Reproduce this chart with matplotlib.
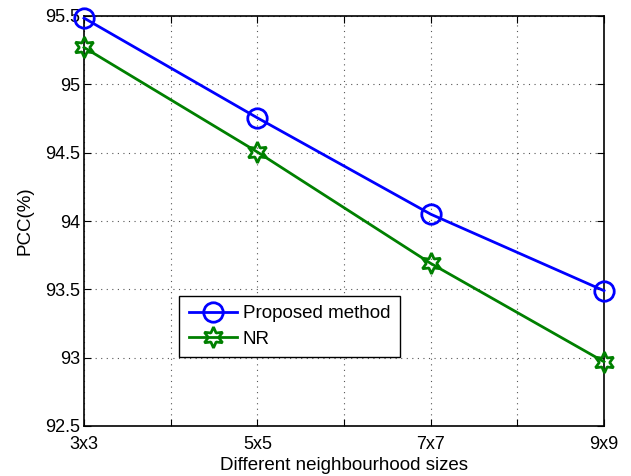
import numpy as np
import matplotlib
matplotlib.use("Agg")
import matplotlib.pyplot as plt

sizes = ["3x3", "5x5", "7x7", "9x9"]
proposed = [95.485, 94.755, 94.05, 93.49]
nr = [95.27, 94.505, 93.69, 92.97]

plt.rcParams["font.family"] = ["Liberation Sans", "DejaVu Sans"]

fig = plt.figure(figsize=(6.31, 4.76), dpi=100)
ax = fig.add_axes([84 / 631, 50 / 476, 520 / 631, 410 / 476])

x = np.arange(1, len(sizes) + 1)
ax.plot(x, proposed, color="#0000ff", lw=2, marker="o", ms=14, mfc="none",
        mew=2, label="Proposed method", clip_on=False, zorder=3)
ax.plot(x, nr, color="#008000", lw=2, marker=(6, 1, 0), ms=15, mfc="none",
        mew=2, label="NR", clip_on=False, zorder=3)

ax.set_xlim(1, 4)
ax.set_ylim(92.5, 95.5)
ax.set_xticks(np.arange(1, 4.01, 0.5))
ax.set_xticklabels([sizes[i // 2] if i % 2 == 0 else "" for i in range(7)])
ax.set_yticks(np.arange(92.5, 95.51, 0.5))
ax.set_yticklabels(["92.5", "93", "93.5", "94", "94.5", "95", "95.5"])
ax.tick_params(direction="in", top=True, right=True, labelsize=13, length=5)
ax.tick_params(axis="x", pad=7)
ax.tick_params(axis="y", pad=3)
ax.grid(True, ls=(0, (1, 4)), color="#555555", lw=0.8)
for s in ax.spines.values():
    s.set_linewidth(1.2)

ax.set_xlabel("Different neighbourhood sizes", fontsize=13.5, labelpad=3)
ax.set_ylabel("PCC(%)", fontsize=13.5, labelpad=8)

leg = ax.legend(loc="lower left", bbox_to_anchor=(0.183, 0.168), fontsize=13.5,
                fancybox=False, framealpha=1, edgecolor="black",
                handlelength=2.6, borderpad=0.5, labelspacing=0.45,
                handletextpad=0.3, borderaxespad=0)
leg.get_frame().set_linewidth(1.0)

fig.savefig("out.png", dpi=100)
